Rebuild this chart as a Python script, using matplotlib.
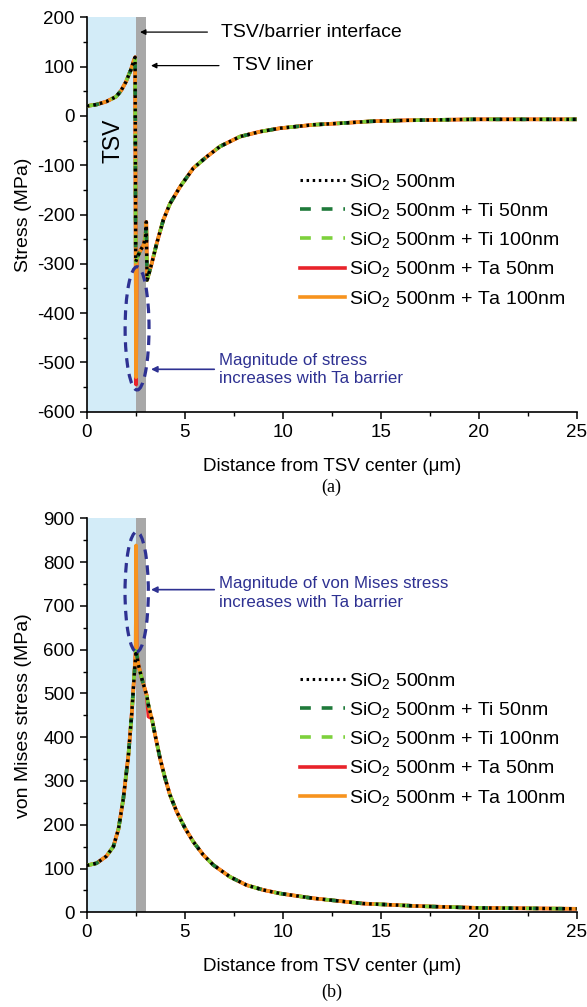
import matplotlib
matplotlib.use("Agg")
import matplotlib.pyplot as plt
from matplotlib.patches import Ellipse
from matplotlib.lines import Line2D
from matplotlib.ticker import MultipleLocator

plt.rcParams['font.family'] = ['Liberation Sans', 'DejaVu Sans']
plt.rcParams['mathtext.fontset'] = 'custom'
plt.rcParams['mathtext.rm'] = 'Liberation Sans'
plt.rcParams['mathtext.default'] = 'regular'
plt.rcParams['axes.unicode_minus'] = False

# ---------------- data (a) stress ----------------
x_a = [0, 0.5, 1.0, 1.5, 1.75, 2.0, 2.25, 2.4, 2.47, 2.5, 2.6, 2.75, 2.9, 3.0, 3.04,
       3.08, 3.32, 3.57, 3.91, 4.25, 4.76, 5.44, 6.12, 6.8, 7.82, 8.84, 9.86, 11.56,
       12.9, 14.5, 16.3, 19.7, 22.5, 25.0]
stress_base = [20, 23, 29, 39, 51, 69, 93, 112, 119, -296, -285, -272, -262, -245, -215,
               -333, -299, -259, -211, -178, -144, -106, -83, -62, -42, -32, -25, -18,
               -15, -11, -9, -7, -7, -7]
x_a_ta = [0, 0.5, 1.0, 1.5, 1.75, 2.0, 2.25, 2.4, 2.47, 2.5, 2.52, 2.55, 2.6, 2.75, 2.9,
          3.0, 3.04, 3.08, 3.32, 3.57, 3.91, 4.25, 4.76, 5.44, 6.12, 6.8, 7.82, 8.84,
          9.86, 11.56, 12.9, 14.5, 16.3, 19.7, 22.5, 25.0]
stress_ta50 = [20, 23, 29, 39, 51, 69, 93, 112, 119, -296, -545, -290, -285, -272, -262,
               -245, -215, -333, -299, -259, -211, -178, -144, -106, -83, -62, -42, -32,
               -25, -18, -15, -11, -9, -7, -7, -7]
stress_ta100 = [20, 23, 29, 39, 51, 69, 93, 112, 119, -296, -530, -290, -285, -272, -262,
                -245, -215, -333, -299, -259, -211, -178, -144, -106, -83, -62, -42, -32,
                -25, -18, -15, -11, -9, -7, -7, -7]

# ---------------- data (b) von Mises stress ----------------
x_b = [0, 0.5, 1.0, 1.36, 1.62, 1.87, 2.13, 2.3, 2.43, 2.52, 2.64, 2.81, 2.98, 3.06,
       3.15, 3.32, 3.49, 3.74, 4.0, 4.25, 4.59, 5.02, 5.44, 5.95, 6.46, 7.31, 8.16, 9.01,
       9.86, 11.56, 14.1, 17.0, 20.0, 25.0]
vm_base = [107, 112, 128, 150, 190, 260, 360, 455, 545, 598, 565, 534, 508, 496,
           473, 443, 405, 352, 306, 268, 230, 192, 161, 131, 108, 81, 62, 51,
           43, 32, 20, 14, 10, 8]
x_b_ta = [0, 0.5, 1.0, 1.36, 1.62, 1.87, 2.13, 2.3, 2.43, 2.5, 2.52, 2.55, 2.64, 2.81,
          2.98, 3.06, 3.15, 3.32, 3.49, 3.74, 4.0, 4.25, 4.59, 5.02, 5.44, 5.95, 6.46,
          7.31, 8.16, 9.01, 9.86, 11.56, 14.1, 17.0, 20.0, 25.0]
vm_ta50 = [107, 112, 128, 150, 190, 260, 360, 455, 545, 598, 815, 595, 565, 534,
           508, 496, 447, 443, 405, 352, 306, 268, 230, 192, 161, 131, 108,
           81, 62, 51, 43, 32, 20, 14, 10, 8]
vm_ta100 = [107, 112, 128, 150, 190, 260, 360, 455, 545, 598, 838, 595, 565, 534,
            508, 496, 473, 443, 405, 352, 306, 268, 230, 192, 161, 131, 108,
            81, 62, 51, 43, 32, 20, 14, 10, 8]

labels = ['SiO$_2$ 500nm', 'SiO$_2$ 500nm + Ti 50nm', 'SiO$_2$ 500nm + Ti 100nm',
          'SiO$_2$ 500nm + Ta 50nm', 'SiO$_2$ 500nm + Ta 100nm']

tsv_radius = 2.53
liner_outer = 3.03

C_TA50 = '#e8232a'
C_TA100 = '#f7931e'
C_TI100 = '#7dd13c'
C_TI50 = '#1f7a3a'
NAVY = '#2e3192'
FS = 14

fig = plt.figure(figsize=(5.87, 10.07), dpi=100)
W, H = 587, 1007
ax1 = fig.add_axes([86.7 / W, 1 - 411.7 / H, 490 / W, 394.4 / H])
ax2 = fig.add_axes([86.7 / W, 1 - 912.3 / H, 490 / W, 394 / H])


def style(ax, ylo, yhi):
    ax.set_xlim(0, 25)
    ax.set_ylim(ylo, yhi)
    ax.axvspan(0, tsv_radius, color='#d3ecf8', lw=0, zorder=0)
    ax.axvspan(tsv_radius, liner_outer, color='#a8a8a8', lw=0, zorder=0.5)
    for s in ['top', 'right']:
        ax.spines[s].set_visible(False)
    for s in ['left', 'bottom']:
        ax.spines[s].set_linewidth(1.2)
    ax.xaxis.set_major_locator(MultipleLocator(5))
    ax.xaxis.set_minor_locator(MultipleLocator(2.5))
    ax.yaxis.set_major_locator(MultipleLocator(100))
    ax.yaxis.set_minor_locator(MultipleLocator(50))
    ax.tick_params(which='major', direction='out', length=5, width=1.1, labelsize=13.5)
    ax.tick_params(which='minor', direction='out', length=3, width=1.0)
    ax.set_xlabel('Distance from TSV center (\u03bcm)', fontsize=13.5)
    ax.xaxis.set_label_coords(0.5, -0.117)
    ax.yaxis.set_label_coords(-0.112, 0.5)


def curves(ax, xb, base, xt, t50, t100):
    ax.plot(xt, t50, color=C_TA50, lw=2.6, zorder=2)
    ax.plot(xt, t100, color=C_TA100, lw=2.6, zorder=3)
    ax.plot(xb, base, color=C_TI100, lw=2.6, ls=(0, (3, 4)), zorder=4)
    ax.plot(xb, base, color=C_TI50, lw=2.6, ls=(5, (1.5, 5.5)), zorder=5)
    ax.plot(xb, base, color='black', lw=2.4, ls=(0, (0.8, 1.2)), zorder=6)


style(ax1, -600, 200)
curves(ax1, x_a, stress_base, x_a_ta, stress_ta50, stress_ta100)
ax1.set_ylabel('Stress (MPa)', fontsize=FS)

style(ax2, 0, 900)
curves(ax2, x_b, vm_base, x_b_ta, vm_ta50, vm_ta100)
ax2.set_ylabel('von Mises stress (MPa)', fontsize=FS)

leg_handles = [Line2D([], [], color='black', lw=2.2, ls=(0, (0.8, 1.2))),
               Line2D([], [], color=C_TI50, lw=2.6, ls=(0, (3, 3))),
               Line2D([], [], color=C_TI100, lw=2.6, ls=(0, (3, 3))),
               Line2D([], [], color=C_TA50, lw=2.6),
               Line2D([], [], color=C_TA100, lw=2.6)]
for ax, anchor in [(ax1, ((300 - 86.7) / 490, 1 - (172 - 17.3) / 394.4)),
                   (ax2, ((300 - 86.7) / 490, 1 - (671 - 518.3) / 394))]:
    ax.legend(leg_handles, labels, loc='upper left', frameon=False, fontsize=FS,
              bbox_to_anchor=anchor, borderpad=0, borderaxespad=0,
              handlelength=2.32, handletextpad=0.2, labelspacing=0.47)

# annotations (a)
ax1.text(1.36, -50, 'TSV', rotation=90, fontsize=16.5, ha='center', va='center')
ax1.annotate('', xy=(2.58, 170), xytext=(6.3, 170),
             arrowprops=dict(arrowstyle='-|>', color='black', lw=0.9, mutation_scale=8))
ax1.text(6.85, 170, 'TSV/barrier interface', fontsize=FS, va='center', ha='left')
ax1.annotate('', xy=(3.14, 102), xytext=(6.89, 102),
             arrowprops=dict(arrowstyle='-|>', color='black', lw=0.9, mutation_scale=8))
ax1.text(7.45, 102, 'TSV liner', fontsize=FS, va='center', ha='left')

ax1.add_patch(Ellipse((2.57, -431), 1.22, 250, fill=False, ls=(0, (3, 2)), lw=2.3,
                      edgecolor=NAVY, zorder=7))
ax1.annotate('', xy=(3.14, -514), xytext=(6.65, -514),
             arrowprops=dict(arrowstyle='-|>', color=NAVY, lw=1.2, mutation_scale=9))
ax1.text(6.77, -514, 'Magnitude of stress\nincreases with Ta barrier', color=NAVY,
         fontsize=12.2, va='center', ha='left', linespacing=1.3)

# annotations (b)
ax2.add_patch(Ellipse((2.55, 732), 1.19, 274, fill=False, ls=(0, (3, 2)), lw=2.3,
                      edgecolor=NAVY, zorder=7))
ax2.annotate('', xy=(3.14, 737), xytext=(6.65, 737),
             arrowprops=dict(arrowstyle='-|>', color=NAVY, lw=1.2, mutation_scale=9))
ax2.text(6.77, 730, 'Magnitude of von Mises stress\nincreases with Ta barrier', color=NAVY,
         fontsize=12.2, va='center', ha='left', linespacing=1.3)

fig.text(331.7 / W, 1 - 487 / H, '(a)', fontsize=13, family='Liberation Serif',
         ha='center', va='center')
fig.text(331.7 / W, 1 - 992 / H, '(b)', fontsize=13, family='Liberation Serif',
         ha='center', va='center')

fig.savefig('out.png', dpi=100)
